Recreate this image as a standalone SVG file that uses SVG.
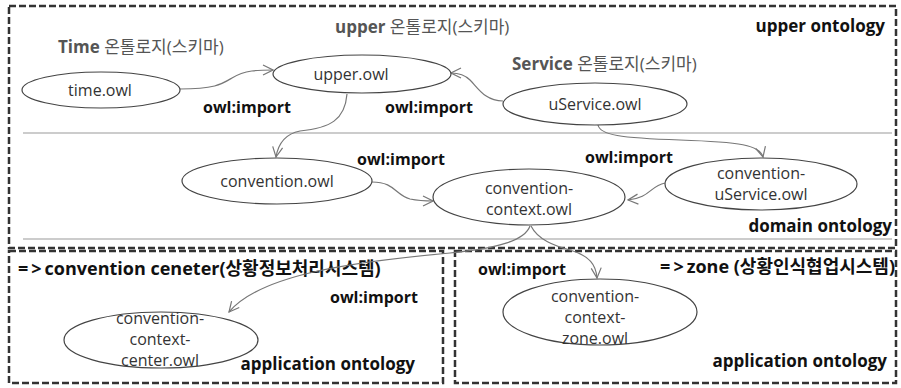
<svg xmlns="http://www.w3.org/2000/svg" width="901" height="388" viewBox="0 0 901 388">
<style>
text{font-family:"Open Sans","Noto Sans CJK KR",sans-serif;}
.box{fill:none;stroke:#333;stroke-width:2.5;stroke-dasharray:7 3;}
.sep{stroke:#999;stroke-width:1;}
.node ellipse{fill:#fff;stroke:#444;stroke-width:1.2;}
.node text{font-size:16px;fill:#333;text-anchor:middle;}
.lbl{font-size:17px;font-weight:bold;fill:#111;}
.ttl{font-size:18px;font-weight:bold;fill:#111;}
.imp{font-size:16px;font-weight:bold;fill:#111;}
.cap{font-size:17px;fill:#555;}
.cap tspan.b{font-weight:bold;}
.conn path{fill:none;stroke:#777;stroke-width:1.2;marker-end:url(#arr);}
</style>
<defs>
<marker id="arr" viewBox="0 0 12 12" refX="11" refY="6" markerWidth="12" markerHeight="12" markerUnits="userSpaceOnUse" orient="auto">
<path d="M1,1 L11,6 L1,11" fill="none" stroke="#777" stroke-width="1.2"/>
</marker>
</defs>
<rect width="901" height="388" fill="#fff"/>
<g id="frames">
<rect class="box" x="9" y="6" width="887" height="242"/>
<rect class="box" x="9" y="251" width="434" height="132"/>
<rect class="box" x="455" y="251" width="441" height="132"/>
<line class="sep" x1="23" y1="133" x2="892" y2="133"/>
<line class="sep" x1="23" y1="239" x2="892" y2="239"/>
</g>
<g id="labels">
<text class="cap" x="58" y="53"><tspan class="b">Time</tspan> 온톨로지(스키마)</text>
<text class="cap" x="335" y="33"><tspan class="b">upper</tspan> 온톨로지(스키마)</text>
<text class="cap" x="512" y="70"><tspan class="b">Service</tspan> 온톨로지(스키마)</text>
<text class="lbl" x="885" y="32" text-anchor="end">upper ontology</text>
<text class="lbl" x="892" y="232" text-anchor="end">domain ontology</text>
<text class="ttl" x="18" y="275"><tspan letter-spacing="3">=&gt;</tspan>convention ceneter(상황정보처리시스템)</text>
<text class="ttl" x="895" y="273" text-anchor="end"><tspan letter-spacing="3">=&gt;</tspan>zone (상황인식협업시스템)</text>
<text class="lbl" x="415" y="370" text-anchor="end">application ontology</text>
<text class="lbl" x="887" y="367" text-anchor="end">application ontology</text>
<text class="imp" x="203" y="113">owl:import</text>
<text class="imp" x="385" y="113">owl:import</text>
<text class="imp" x="357" y="165">owl:import</text>
<text class="imp" x="585" y="163">owl:import</text>
<text class="imp" x="330" y="303">owl:import</text>
<text class="imp" x="478" y="275">owl:import</text>
</g>
<g id="connectors" class="conn">
<path d="M180,89 C215,89 222,84 232,78 C245,70 258,70 273,70"/>
<path d="M503,101 C485,101 478,88 470,80 C464,74 458,73 451,73"/>
<path d="M347,94 C345,120 330,128 300,131 C285,134 278,145 276,157"/>
<path d="M598,125 C600,135 620,138 680,140 C740,142 760,145 763,157"/>
<path d="M372,182 C395,182 395,195 410,199 C420,201 426,201 433,201"/>
<path d="M665,183 C650,186 650,198 628,200"/>
<path d="M530,226 C525,240 500,248 450,253 C350,262 260,275 229,312"/>
<path d="M531,226 C538,240 555,246 570,250 C590,256 596,265 597,278"/>
</g>
<g id="time" class="node"><ellipse cx="101" cy="90" rx="79" ry="18"/><text x="100" y="96">time.owl</text></g>
<g id="upper" class="node"><ellipse cx="362" cy="74" rx="89" ry="19"/><text x="351" y="80">upper.owl</text></g>
<g id="uservice" class="node"><ellipse cx="595" cy="104" rx="92" ry="21"/><text x="595" y="110">uService.owl</text></g>
<g id="convention" class="node"><ellipse cx="277" cy="181" rx="95" ry="23"/><text x="277" y="187">convention.owl</text></g>
<g id="convention-context" class="node"><ellipse cx="529" cy="197" rx="96" ry="28"/><text x="529" y="194">convention-</text><text x="529" y="215">context.owl</text></g>
<g id="convention-uservice" class="node"><ellipse cx="761" cy="184" rx="96" ry="26"/><text x="761" y="179">convention-</text><text x="761" y="200">uService.owl</text></g>
<g id="convention-context-center" class="node"><ellipse cx="161" cy="340" rx="97" ry="28"/><text x="160" y="324">convention-</text><text x="160" y="345">context-</text><text x="160" y="366">center.owl</text></g>
<g id="convention-context-zone" class="node"><ellipse cx="600" cy="312" rx="97" ry="33"/><text x="595" y="302">convention-</text><text x="595" y="323">context-</text><text x="595" y="344">zone.owl</text></g>
</svg>
